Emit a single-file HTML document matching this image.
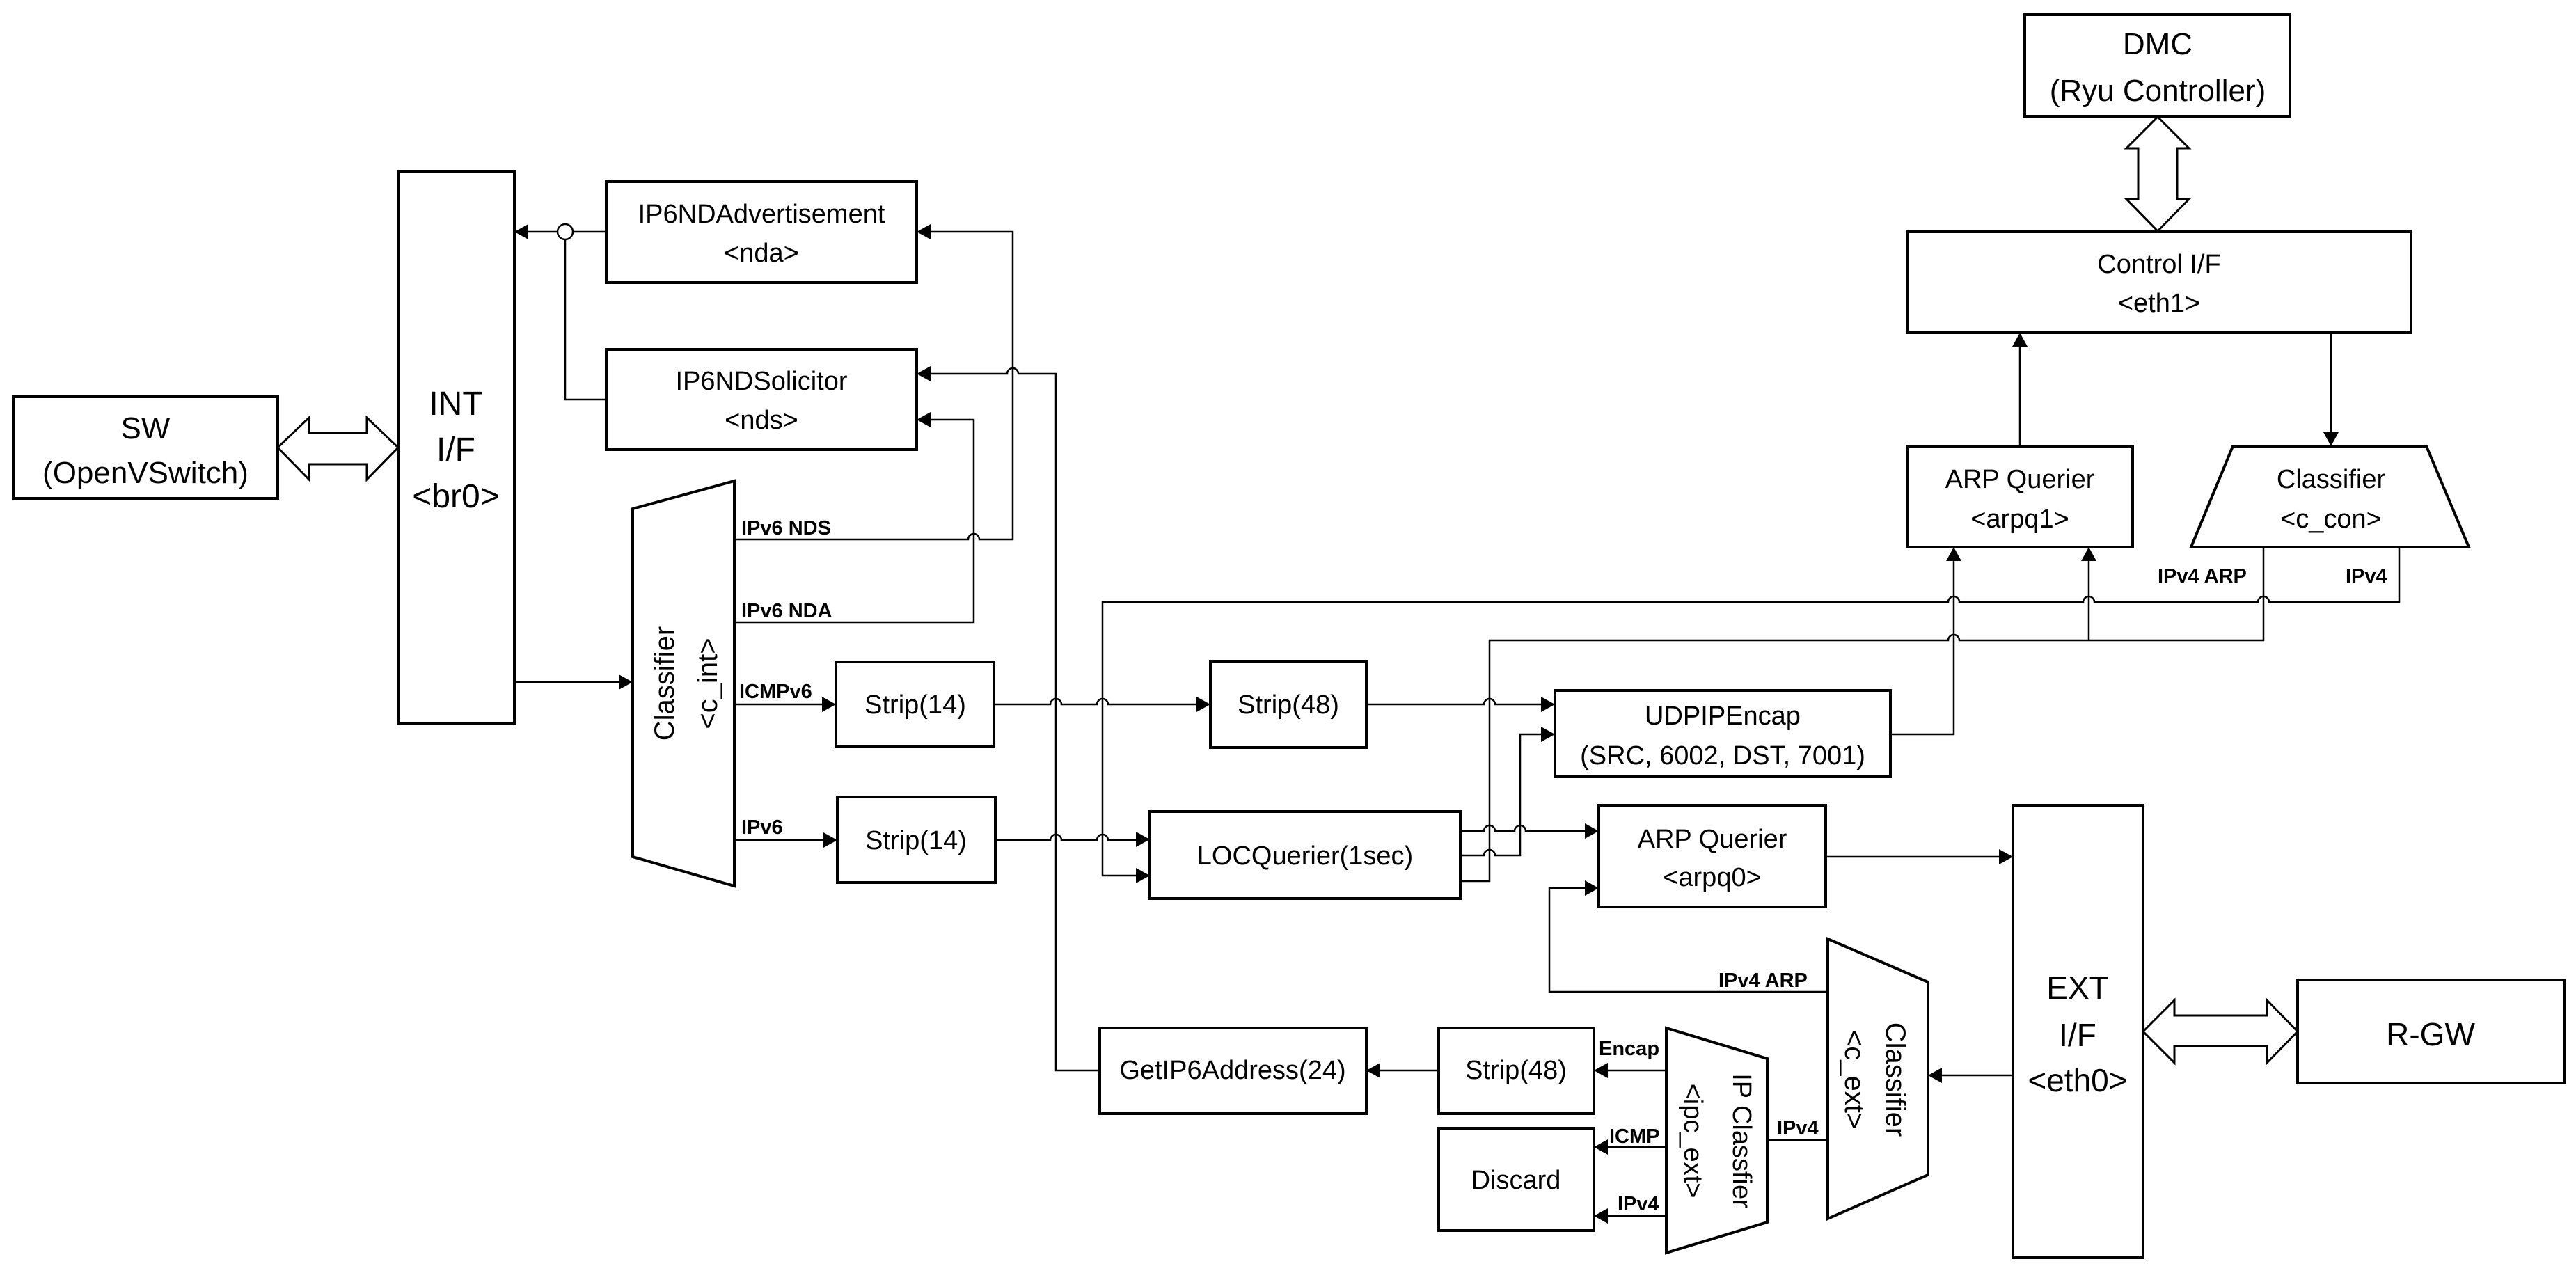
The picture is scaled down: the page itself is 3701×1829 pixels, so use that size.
<!DOCTYPE html>
<html><head><meta charset="utf-8"><style>
html,body{margin:0;padding:0;background:#fff;}
svg{display:block;}
text{font-family:"Liberation Sans",sans-serif;fill:#000;}
.b{font-size:38px;text-anchor:middle;}
.l{font-size:29px;font-weight:bold;}
</style></head><body>
<svg width="3701" height="1829" viewBox="0 0 3701 1829" xmlns="http://www.w3.org/2000/svg">
<g fill="#fff" stroke="#000" stroke-width="4">
<rect x="19" y="570" width="380" height="146"/>
<rect x="572" y="246" width="167" height="794"/>
<rect x="871" y="261" width="446" height="145"/>
<rect x="871" y="502" width="446" height="144"/>
<rect x="1201" y="951" width="227" height="122"/>
<rect x="1203" y="1145" width="227" height="123"/>
<rect x="1739" y="950" width="224" height="124"/>
<rect x="2234" y="992" width="482" height="124"/>
<rect x="1652" y="1166" width="446" height="125"/>
<rect x="2297" y="1157" width="326" height="146"/>
<rect x="2892" y="1157" width="187" height="650"/>
<rect x="3301" y="1408" width="383" height="148"/>
<rect x="2909" y="21" width="381" height="146"/>
<rect x="2741" y="333" width="723" height="145"/>
<rect x="2741" y="641" width="323" height="145"/>
<rect x="2067" y="1477" width="223" height="123"/>
<rect x="1580" y="1477" width="383" height="123"/>
<rect x="2067" y="1621" width="223" height="147"/>
<polygon points="909,731 1055,691 1055,1273 909,1231"/>
<polygon points="3208,641 3486,641 3547,786 3148,786"/>
<polygon points="2626,1349 2770,1411 2770,1688 2626,1751"/>
<polygon points="2394,1477 2539,1521 2539,1756 2394,1800"/>
<polygon points="399,643 444,600 444,622 527,622 527,600 572,643 527,689 527,667 444,667 444,689" stroke-width="3"/>
<polygon points="3100,168 3145,213 3128,213 3128,286 3145,286 3100,332 3055,286 3072,286 3072,213 3055,213" stroke-width="3"/>
<polygon points="3079,1482 3124,1437 3124,1459 3257,1459 3257,1437 3301,1482 3257,1527 3257,1503 3124,1503 3124,1527" stroke-width="3"/>
</g>
<g fill="none" stroke="#000" stroke-width="2.5">
<circle cx="812" cy="333" r="11"/>
<path d="M871,333 L823,333 M801,333 L759,333 M812,344 L812,574 L871,574"/>
<path d="M739,980 L889,980"/>
<path d="M1055,775 L1391,775 A8 8 0 0 1 1407,775 L1455,775 L1455,333 L1337,333"/>
<path d="M1055,894 L1399,894 L1399,603 L1337,603"/>
<path d="M1580,1538 L1517,1538 L1517,537 L1463,537 A8 8 0 0 0 1447,537 L1337,537"/>
<path d="M1055,1012 L1181,1012 M1055,1207 L1183,1207"/>
<path d="M1428,1012 L1509,1012 A8 8 0 0 1 1525,1012 L1576,1012 A8 8 0 0 1 1592,1012 L1719,1012"/>
<path d="M1430,1207 L1509,1207 A8 8 0 0 1 1525,1207 L1576,1207 A8 8 0 0 1 1592,1207 L1632,1207"/>
<path d="M3447,786 L3447,865 L3260,865 A8 8 0 0 0 3244,865 L3009,865 A8 8 0 0 0 2993,865 L2815,865 A8 8 0 0 0 2799,865 L1584,865 L1584,1258 L1632,1258"/>
<path d="M3252,786 L3252,920 L2815,920 A8 8 0 0 0 2799,920 L2140,920 L2140,1266 L2098,1266"/>
<path d="M3001,920 L3001,806"/>
<path d="M1963,1012 L2132,1012 A8 8 0 0 1 2148,1012 L2214,1012"/>
<path d="M2716,1055 L2807,1055 L2807,806"/>
<path d="M2098,1194 L2132,1194 A8 8 0 0 1 2148,1194 L2176,1194 A8 8 0 0 1 2192,1194 L2277,1194"/>
<path d="M2098,1229 L2132,1229 A8 8 0 0 1 2148,1229 L2184,1229 L2184,1055 L2214,1055"/>
<path d="M2626,1425 L2226,1425 L2226,1276 L2277,1276"/>
<path d="M2623,1231 L2872,1231"/>
<path d="M2902,641 L2902,498 M3349,478 L3349,621"/>
<path d="M2892,1545 L2790,1545 M2626,1638 L2539,1638"/>
<path d="M2394,1538 L2310,1538 M2067,1538 L1983,1538 M2394,1648 L2310,1648 M2394,1747 L2310,1747"/>
</g>
<g fill="#000">
<polygon points="759,322 739,333 759,344"/>
<polygon points="889,969 909,980 889,991"/>
<polygon points="1337,322 1317,333 1337,344"/>
<polygon points="1337,526 1317,537 1337,548"/>
<polygon points="1337,592 1317,603 1337,614"/>
<polygon points="1181,1001 1201,1012 1181,1023"/>
<polygon points="1183,1196 1203,1207 1183,1218"/>
<polygon points="1719,1001 1739,1012 1719,1023"/>
<polygon points="2214,1001 2234,1012 2214,1023"/>
<polygon points="2214,1044 2234,1055 2214,1066"/>
<polygon points="1632,1195 1652,1206 1632,1217"/>
<polygon points="1632,1247 1652,1258 1632,1269"/>
<polygon points="2277,1183 2297,1194 2277,1205"/>
<polygon points="2277,1265 2297,1276 2277,1287"/>
<polygon points="2872,1220 2892,1231 2872,1242"/>
<polygon points="2891,498 2902,478 2913,498"/>
<polygon points="2796,806 2807,786 2818,806"/>
<polygon points="2990,806 3001,786 3012,806"/>
<polygon points="3338,621 3349,641 3360,621"/>
<polygon points="2790,1534 2770,1545 2790,1556"/>
<polygon points="2310,1527 2290,1538 2310,1549"/>
<polygon points="1983,1527 1963,1538 1983,1549"/>
<polygon points="2310,1637 2290,1648 2310,1659"/>
<polygon points="2310,1736 2290,1747 2310,1758"/>
</g>
<text class="b" x="209" y="630" style="font-size:44px">SW</text>
<text class="b" x="209" y="694" style="font-size:44px">(OpenVSwitch)</text>
<text class="b" x="655" y="596" style="font-size:48px">INT</text>
<text class="b" x="655" y="662" style="font-size:48px">I/F</text>
<text class="b" x="655" y="729" style="font-size:48px">&lt;br0&gt;</text>
<text class="b" x="1094" y="320">IP6NDAdvertisement</text>
<text class="b" x="1094" y="376">&lt;nda&gt;</text>
<text class="b" x="1094" y="560">IP6NDSolicitor</text>
<text class="b" x="1094" y="616">&lt;nds&gt;</text>
<text class="b" x="1315" y="1025">Strip(14)</text>
<text class="b" x="1316" y="1220">Strip(14)</text>
<text class="b" x="1851" y="1025">Strip(48)</text>
<text class="b" x="2475" y="1041">UDPIPEncap</text>
<text class="b" x="2475" y="1098">(SRC, 6002, DST, 7001)</text>
<text class="b" x="1875" y="1242">LOCQuerier(1sec)</text>
<text class="b" x="2460" y="1218">ARP Querier</text>
<text class="b" x="2460" y="1273">&lt;arpq0&gt;</text>
<text class="b" x="2985" y="1435" style="font-size:46px">EXT</text>
<text class="b" x="2985" y="1503" style="font-size:46px">I/F</text>
<text class="b" x="2985" y="1568" style="font-size:46px">&lt;eth0&gt;</text>
<text class="b" x="3492" y="1502" style="font-size:46px">R-GW</text>
<text class="b" x="3100" y="78" style="font-size:44px">DMC</text>
<text class="b" x="3100" y="145" style="font-size:44px">(Ryu Controller)</text>
<text class="b" x="3102" y="392">Control I/F</text>
<text class="b" x="3102" y="448">&lt;eth1&gt;</text>
<text class="b" x="2902" y="701">ARP Querier</text>
<text class="b" x="2902" y="758">&lt;arpq1&gt;</text>
<text class="b" x="3349" y="701">Classifier</text>
<text class="b" x="3349" y="758">&lt;c_con&gt;</text>
<text class="b" x="2178" y="1550">Strip(48)</text>
<text class="b" x="1771" y="1550">GetIP6Address(24)</text>
<text class="b" x="2178" y="1708">Discard</text>
<text class="b" transform="translate(968,982) rotate(-90)" style="font-size:40px">Classifier</text>
<text class="b" transform="translate(1030,982) rotate(-90)" style="font-size:40px">&lt;c_int&gt;</text>
<text class="b" transform="translate(2710,1551) rotate(90)" style="font-size:40px">Classifier</text>
<text class="b" transform="translate(2651,1551) rotate(90)" style="font-size:40px">&lt;c_ext&gt;</text>
<text class="b" transform="translate(2490,1639) rotate(90)" style="font-size:38px">IP Classfier</text>
<text class="b" transform="translate(2420,1639) rotate(90)" style="font-size:38px">&lt;ipc_ext&gt;</text>
<text class="l" x="1065" y="768">IPv6 NDS</text>
<text class="l" x="1065" y="887">IPv6 NDA</text>
<text class="l" x="1062" y="1003">ICMPv6</text>
<text class="l" x="1065" y="1198">IPv6</text>
<text class="l" x="3100" y="837">IPv4 ARP</text>
<text class="l" x="3370" y="837">IPv4</text>
<text class="l" x="2469" y="1418">IPv4 ARP</text>
<text class="l" x="2553" y="1630">IPv4</text>
<text class="l" x="2297" y="1516">Encap</text>
<text class="l" x="2312" y="1642">ICMP</text>
<text class="l" x="2324" y="1739">IPv4</text>
</svg>
</body></html>
